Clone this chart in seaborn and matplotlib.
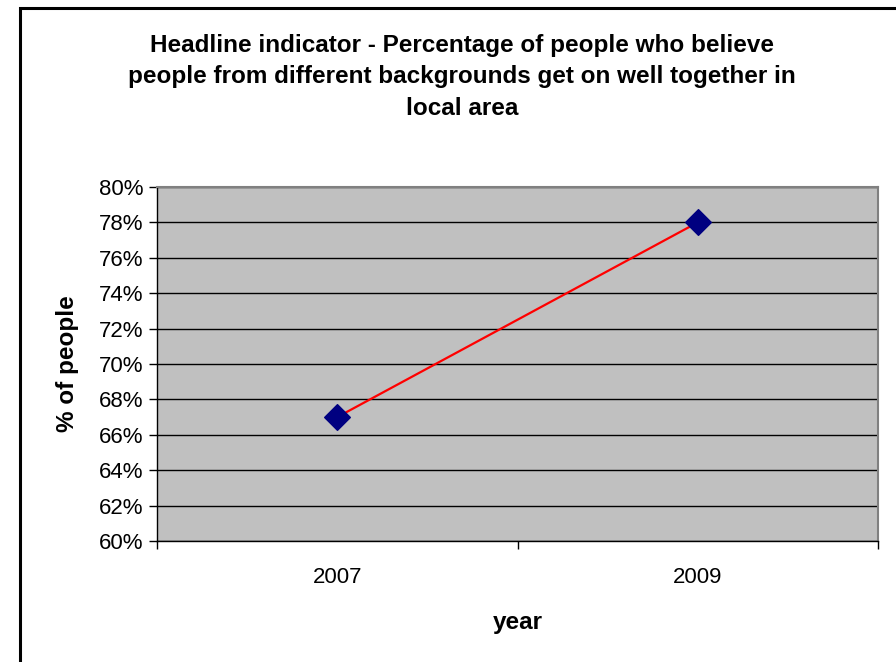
import matplotlib
matplotlib.use("Agg")
import matplotlib.pyplot as plt
import seaborn as sns
import pandas as pd
from matplotlib.patches import Rectangle
from matplotlib.ticker import FixedLocator, PercentFormatter

years = ["2007", "2009"]
values = [67, 78]
y_ticks = list(range(60, 81, 2))
title = ("Headline indicator - Percentage of people who believe\n"
         "people from different backgrounds get on well together in\n"
         "local area")

sns.set_style("white")
plt.rcParams['font.family'] = ['Liberation Sans', 'DejaVu Sans']
plt.rcParams['text.color'] = 'black'
plt.rcParams['axes.labelcolor'] = 'black'
plt.rcParams['xtick.color'] = 'black'
plt.rcParams['ytick.color'] = 'black'

df = pd.DataFrame({"pos": range(len(years)), "value": values, "year": years})

fig = plt.figure(figsize=(8.96, 6.62), dpi=100)
ax = fig.add_axes([157/896, 1-541/662, (878-157)/896, (541-187)/662])
ax.set_facecolor("#C0C0C0")

for t in y_ticks:
    ax.axhline(t, color="black", lw=1, zorder=1)

sns.lineplot(data=df, x="pos", y="value", color="red", lw=1.6, ax=ax, zorder=3)
sns.scatterplot(data=df, x="pos", y="value", marker="D", s=170, color="#000080",
                edgecolor="#000080", ax=ax, zorder=4)

ax.set_xlim(-0.5, len(years) - 0.5)
ax.set_ylim(60, 80)
ax.set_yticks(y_ticks)
ax.yaxis.set_major_formatter(PercentFormatter(decimals=0))
ax.set_xticks(range(len(years)))
ax.set_xticklabels(years)
ax.xaxis.set_minor_locator(FixedLocator([-0.5 + i for i in range(len(years) + 1)]))
ax.tick_params(axis="x", which="major", length=0, pad=19, labelsize=16)
ax.tick_params(axis="x", which="minor", length=6, width=1, color="black", direction="out", bottom=True)
ax.tick_params(axis="y", length=6, width=1, color="black", direction="out", left=True, labelsize=16, pad=4)

for s in ["top", "right"]:
    ax.spines[s].set_color("#808080")
    ax.spines[s].set_linewidth(1.5)
for s in ["left", "bottom"]:
    ax.spines[s].set_color("black")
    ax.spines[s].set_linewidth(1)

ax.set_xlabel("year", fontsize=17.5, fontweight="bold", labelpad=16)
ax.set_ylabel("% of people", fontsize=17.5, fontweight="bold", labelpad=14)

fig.text(462/896, 1 - 77/662, title, ha="center", va="center",
         fontsize=17.5, fontweight="bold", linespacing=1.46, transform=fig.transFigure)

fig.patches.append(Rectangle((20/896, -0.5), 2, 0.5 + 1 - 8/662, transform=fig.transFigure,
                             fill=False, edgecolor="black", lw=2.2, zorder=10))

fig.savefig("out.png", dpi=100)
